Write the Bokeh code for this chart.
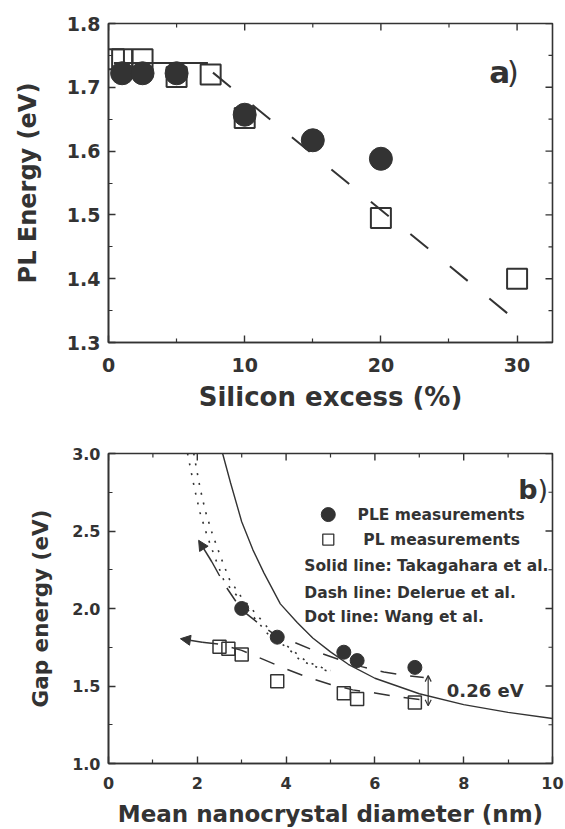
import math
from bokeh.plotting import figure
from bokeh.layouts import column
from bokeh.models import FixedTicker, Arrow, NormalHead, OpenHead, Range1d
from bokeh.embed import file_html
from bokeh.resources import INLINE
from bokeh.core.properties import value

# ---------------- panel a) data ----------------
si_pl = [0.4, 1.0, 2.5, 5.0, 7.5, 10.0, 20.0, 30.0]
e_pl_a = [1.744, 1.744, 1.744, 1.716, 1.720, 1.652, 1.495, 1.400]
si_ple = [1.0, 2.5, 5.0, 10.0, 15.0, 20.0]
e_ple_a = [1.722, 1.722, 1.722, 1.657, 1.617, 1.588]
fit_flat_x = [0.4, 7.3]
fit_flat_y = [1.738, 1.738]
fit_slope_x = [7.67, 29.5]
fit_slope_y = [1.723, 1.342]
a_xrange = (0, 32.6)
a_yrange = (1.3, 1.8)
a_xticks = [0, 10, 20, 30]
a_xtick_labels = ["0", "10", "20", "30"]
a_xminor = [5, 15, 25]
a_yticks = [1.3, 1.4, 1.5, 1.6, 1.7, 1.8]
a_ytick_labels = ["1.3", "1.4", "1.5", "1.6", "1.7", "1.8"]
a_yminor = [1.35, 1.45, 1.55, 1.65, 1.75]

# ---------------- panel b) data ----------------
d_ple = [3.0, 3.8, 5.3, 5.6, 6.9]
e_ple = [2.00, 1.815, 1.718, 1.664, 1.620]
d_pl = [2.5, 2.7, 3.0, 3.8, 5.3, 5.6, 6.9]
e_pl = [1.754, 1.740, 1.703, 1.530, 1.453, 1.416, 1.394]
# Takagahara et al. (solid)
taka_d = [2.57, 2.75, 3.0, 3.25, 3.5, 3.87, 4.25, 4.6, 5.0, 5.4, 6.0, 7.0, 8.0, 9.0, 10.0]
taka_e = [3.00, 2.81, 2.56, 2.38, 2.23, 2.03, 1.91, 1.81, 1.72, 1.64, 1.55, 1.45, 1.38, 1.33, 1.29]
# Delerue et al. (dashed)
del_ple_d = [2.33, 2.6, 3.0, 3.4, 3.8, 4.2, 4.7, 5.2, 5.7, 6.2, 6.7, 7.1]
del_ple_e = [2.30, 2.16, 1.99, 1.90, 1.82, 1.78, 1.72, 1.67, 1.625, 1.59, 1.567, 1.555]
del_pl_d = [2.11, 2.5, 3.0, 3.5, 4.0, 4.5, 5.0, 5.5, 6.0, 6.5, 7.1]
del_pl_e = [1.783, 1.77, 1.73, 1.67, 1.61, 1.555, 1.51, 1.475, 1.455, 1.43, 1.41]
# Wang et al. (dotted, two branches)
wang1_d = [1.78, 1.94, 2.06, 2.22, 2.41, 2.60, 2.90, 3.24, 3.65, 4.02, 4.32, 4.70, 5.0]
wang1_e = [3.00, 2.77, 2.62, 2.47, 2.32, 2.18, 2.08, 1.955, 1.815, 1.75, 1.665, 1.621, 1.589]
wang2_d = [1.92, 2.06, 2.18, 2.34, 2.53, 2.72, 3.0, 3.34, 3.75, 4.1, 4.45, 4.8, 5.0]
wang2_e = [3.00, 2.78, 2.63, 2.48, 2.33, 2.19, 2.07, 1.96, 1.82, 1.74, 1.66, 1.62, 1.60]
# arrows (start -> end)
arrow_up_x = [2.33, 2.03]
arrow_up_y = [2.30, 2.44]
arrow_left_x = [2.11, 1.62]
arrow_left_y = [1.783, 1.805]
gap_x = [7.2, 7.2]
gap_y = [1.373, 1.567]
gap_label = "0.26 eV"
b_xrange = (0, 10)
b_yrange = (1.0, 3.0)
b_xticks = [0, 2, 4, 6, 8, 10]
b_xtick_labels = ["0", "2", "4", "6", "8", "10"]
b_xminor = [1, 3, 5, 7, 9]
b_yticks = [1.0, 1.5, 2.0, 2.5, 3.0]
b_ytick_labels = ["1.0", "1.5", "2.0", "2.5", "3.0"]
b_yminor = [1.25, 1.75, 2.25, 2.75]
legend_labels = ["PLE measurements", "PL measurements",
                 "Solid line: Takagahara et al.", "Dash line: Delerue et al.",
                 "Dot line: Wang et al."]

INK = "#333333"
FONT = "DejaVu Sans"


def style_axis(ax, ticks, minor, labels, size, standoff):
    ax.ticker = FixedTicker(ticks=ticks, minor_ticks=minor)
    ax.major_label_overrides = {t: l for t, l in zip(ticks, labels)}
    ax.major_tick_in = 7
    ax.major_tick_out = 0
    ax.minor_tick_in = 4
    ax.minor_tick_out = 0
    ax.axis_line_color = INK
    ax.axis_line_width = 1.6
    ax.major_tick_line_color = INK
    ax.major_tick_line_width = 1.4
    ax.minor_tick_line_color = INK
    ax.minor_tick_line_width = 1.2
    ax.major_label_text_font = FONT
    ax.major_label_text_font_style = "bold"
    ax.major_label_text_color = INK
    ax.major_label_text_font_size = size
    ax.major_label_standoff = standoff


def mirror_ticks(p, xr, yr, xt, xm, yt, ym):
    # ticks on the top and right frame edges (pointing inward)
    for ticks, L, w in ((xt, 7, 1.4), (xm, 4, 1.2)):
        p.ray(x=ticks, y=[yr[1]] * len(ticks), length=L, length_units="screen",
              angle=-math.pi / 2, line_color=INK, line_width=w)
    for ticks, L, w in ((yt, 7, 1.4), (ym, 4, 1.2)):
        p.ray(x=[xr[1]] * len(ticks), y=ticks, length=L, length_units="screen",
              angle=math.pi, line_color=INK, line_width=w)


def base_fig(xr, yr, fw, fh, top, bottom):
    p = figure(x_range=Range1d(*xr), y_range=Range1d(*yr),
               frame_width=fw, frame_height=fh,
               min_border_left=108, min_border_right=13,
               min_border_top=top, min_border_bottom=bottom,
               toolbar_location=None, output_backend="svg")
    p.grid.visible = False
    p.outline_line_color = INK
    p.outline_line_width = 1.6
    p.background_fill_color = "white"
    p.border_fill_color = "white"
    return p


# ================= panel a =================
pa = base_fig(a_xrange, a_yrange, 444, 319, 23, 78)
xb, yl = pa.below[0], pa.left[0]
style_axis(xb, a_xticks, a_xminor, a_xtick_labels, "19px", 15)
style_axis(yl, a_yticks, a_yminor, a_ytick_labels, "19px", 8)
mirror_ticks(pa, a_xrange, a_yrange, a_xticks, a_xminor, a_yticks, a_yminor)
xb.axis_label = "Silicon excess (%)"
yl.axis_label = "PL Energy (eV)"
for ax, fs, so in ((xb, "26px", 7), (yl, "24px", 22)):
    ax.axis_label_text_font = FONT
    ax.axis_label_text_font_style = "bold"
    ax.axis_label_text_font_size = fs
    ax.axis_label_text_color = INK
    ax.axis_label_standoff = so

pa.scatter(si_pl, e_pl_a, marker="square", size=20, fill_color=None,
           line_color=INK, line_width=2)
pa.line(fit_flat_x, fit_flat_y, line_color=INK, line_width=2)
pa.line(fit_slope_x, fit_slope_y, line_color=INK, line_width=2, line_dash="23 28")
pa.scatter(si_ple, e_ple_a, marker="circle", size=23, fill_color=INK, line_color=INK)
pa.text(x=[27.95], y=[1.724], text=["a"], text_font=value(FONT), text_font_style="bold",
        text_font_size="31px", text_color=INK, text_baseline="alphabetic", text_align="left")
pa.text(x=[29.25], y=[1.724], text=[")"], text_font=value(FONT), text_font_style="normal",
        text_font_size="31px", text_color=INK, text_baseline="alphabetic", text_align="left")

# ================= panel b =================
pb = base_fig(b_xrange, b_yrange, 444, 310, 33, 66)
xb, yl = pb.below[0], pb.left[0]
style_axis(xb, b_xticks, b_xminor, b_xtick_labels, "16px", 13)
style_axis(yl, b_yticks, b_yminor, b_ytick_labels, "16px", 8)
mirror_ticks(pb, b_xrange, b_yrange, b_xticks, b_xminor, b_yticks, b_yminor)
xb.axis_label = "Mean nanocrystal diameter (nm)"
yl.axis_label = "Gap energy (eV)"
for ax, fs, so in ((xb, "23px", 9), (yl, "21.5px", 16)):
    ax.axis_label_text_font = FONT
    ax.axis_label_text_font_style = "bold"
    ax.axis_label_text_font_size = fs
    ax.axis_label_text_color = INK
    ax.axis_label_standoff = so

pb.line(taka_d, taka_e, line_color=INK, line_width=1.4)
pb.line(wang1_d, wang1_e, line_color=INK, line_width=1.6, line_dash="2 8")
pb.line(wang2_d, wang2_e, line_color=INK, line_width=1.6, line_dash="2 8")
pb.line(del_ple_d, del_ple_e, line_color=INK, line_width=1.5, line_dash="16 14")
pb.line(del_pl_d, del_pl_e, line_color=INK, line_width=1.5, line_dash="16 14")
pb.add_layout(Arrow(x_start=arrow_up_x[0], y_start=arrow_up_y[0],
                    x_end=arrow_up_x[1], y_end=arrow_up_y[1],
                    line_color=INK, line_width=1.5,
                    end=NormalHead(size=10, fill_color=INK, line_color=INK)))
pb.add_layout(Arrow(x_start=arrow_left_x[0], y_start=arrow_left_y[0],
                    x_end=arrow_left_x[1], y_end=arrow_left_y[1],
                    line_color=INK, line_width=1.5,
                    end=NormalHead(size=10, fill_color=INK, line_color=INK)))
pb.add_layout(Arrow(x_start=gap_x[0], y_start=gap_y[0], x_end=gap_x[1], y_end=gap_y[1],
                    line_color=INK, line_width=1.2,
                    start=OpenHead(size=6, line_color=INK, line_width=1.2),
                    end=OpenHead(size=6, line_color=INK, line_width=1.2)))
pb.scatter(d_pl, e_pl, marker="square", size=13, fill_color=None, line_color=INK, line_width=1.5)
pb.scatter(d_ple, e_ple, marker="circle", size=14, fill_color=INK, line_color=INK)
pb.text(x=[7.62], y=[1.47], text=[gap_label], text_font=value(FONT), text_font_style="bold",
        text_font_size="18px", text_color=INK, text_baseline="middle", text_align="left")

# legend block
pb.scatter([4.95], [2.606], marker="circle", size=14, fill_color=INK, line_color=INK)
pb.scatter([4.95], [2.445], marker="square", size=11, fill_color=None, line_color=INK, line_width=1.3)
pb.text(x=[5.61, 5.74, 4.41, 4.41, 4.41], y=[2.606, 2.445, 2.277, 2.103, 1.942],
        text=legend_labels, text_font=value(FONT), text_font_style="bold",
        text_font_size="15.5px", text_color=INK, text_baseline="middle", text_align="left")
pb.text(x=[9.23], y=[2.77], text=["b"], text_font=value(FONT), text_font_style="bold",
        text_font_size="27px", text_color=INK, text_baseline="alphabetic", text_align="left")
pb.text(x=[9.66], y=[2.77], text=[")"], text_font=value(FONT), text_font_style="normal",
        text_font_size="27px", text_color=INK, text_baseline="alphabetic", text_align="left")

layout = column(pa, pb, spacing=0)
open("out.html", "w").write(file_html(layout, INLINE))
